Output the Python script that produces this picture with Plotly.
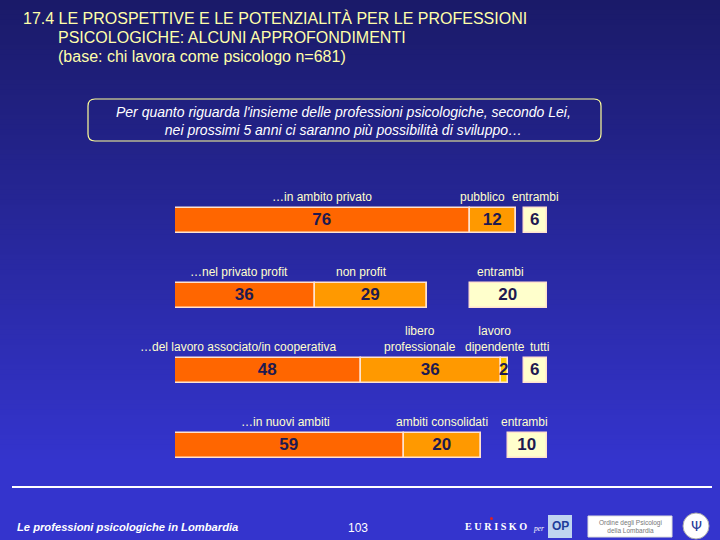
import plotly.graph_objects as go

# ---------------- data ----------------
rows = [0, 1, 2, 3]
seg1_labels = ["…in ambito privato", "…nel privato profit",
               "…del lavoro associato/in cooperativa", "…in nuovi ambiti"]
seg1_values = [76, 36, 48, 59]
seg2_labels = ["pubblico", "non profit", "libero<br>professionale", "ambiti consolidati"]
seg2_values = [12, 29, 36, 20]
seg3_labels = ["", "", "lavoro<br>dipendente", ""]
seg3_values = [0, 0, 2, 0]
sep_labels = ["entrambi", "entrambi", "tutti", "entrambi"]
sep_values = [6, 20, 6, 10]

title_lines = ["17.4 LE PROSPETTIVE E LE POTENZIALITÀ PER LE PROFESSIONI",
               "PSICOLOGICHE: ALCUNI APPROFONDIMENTI",
               "(base: chi lavora come psicologo n=681)"]
question_text = ("Per quanto riguarda l'insieme delle professioni psicologiche, secondo Lei,<br>"
                 "nei prossimi 5 anni ci saranno più possibilità di sviluppo…")
footer_left = "Le professioni psicologiche in Lombardia"
page_number = "103"

# ---------------- style ----------------
W, H = 720, 540
XMAX = 96
C1, C2, C3, C4 = "#FF6600", "#FF9900", "#FFCC00", "#FFFFCC"
EDGE = "#FFE2CF"
NUM_COLOR = "#1E1A50"
LABEL_COLOR = "#FFFFCC"
SANS = "Liberation Sans, Arial, sans-serif"

def px(x):
    return x / W

def py(y):
    return 1 - y / H

fig = go.Figure()

def add_bar(values, base, color, name):
    txt = [str(v) if v else "" for v in values]
    fig.add_trace(go.Bar(
        y=rows, x=values, base=base, orientation="h", name=name,
        width=0.345,
        marker=dict(color=color, line=dict(color=EDGE, width=1.5)),
        text=txt, textposition="inside", insidetextanchor="middle",
        constraintext="none",
        textfont=dict(family=SANS, size=17, color=NUM_COLOR, weight="bold"),
        hoverinfo="skip", showlegend=False,
    ))

base2 = seg1_values
base3 = [a + b for a, b in zip(seg1_values, seg2_values)]
base_sep = [XMAX - v for v in sep_values]

add_bar(seg1_values, [0] * 4, C1, "seg1")
add_bar(seg2_values, base2, C2, "seg2")
add_bar(seg3_values, base3, C3, "seg3")
add_bar(sep_values, base_sep, C4, "sep")

# ---------------- labels above bars ----------------
xshift = {(0, 1): -10, (1, 0): -6, (1, 1): -9, (1, 3): -8,
          (2, 0): -30, (2, 1): -11, (2, 2): -9, (2, 3): 4, (3, 0): -4, (3, 3): -3}
annotations = []
for i in rows:
    groups = [
        (seg1_labels[i], 0, seg1_values[i]),
        (seg2_labels[i], base2[i], seg2_values[i]),
        (seg3_labels[i], base3[i], seg3_values[i]),
        (sep_labels[i], base_sep[i], sep_values[i]),
    ]
    for k, (lab, b, v) in enumerate(groups):
        if not lab:
            continue
        annotations.append(dict(
            x=b + v / 2, y=i, xref="x", yref="y", text=lab, showarrow=False,
            xanchor="center", yanchor="bottom", yshift=15,
            xshift=xshift.get((i, k), 0),
            font=dict(family=SANS, size=12, color=LABEL_COLOR),
        ))

# title
title_pos = [(21, 18), (56, 37), (56, 56)]
for t, (x0, y0) in zip(title_lines, title_pos):
    annotations.append(dict(
        x=px(x0), y=py(y0), xref="paper", yref="paper", text=t, showarrow=False,
        xanchor="left", yanchor="middle",
        font=dict(family=SANS, size=16, color="#FFFFAA")))

# question box text
annotations.append(dict(
    x=px(343), y=py(121), xref="paper", yref="paper", text="<i>" + question_text + "</i>",
    showarrow=False, xanchor="center", yanchor="middle",
    font=dict(family=SANS, size=14, color="#FFFFFF")))

# footer
annotations.append(dict(
    x=px(15), y=py(527), xref="paper", yref="paper", text="<b><i>" + footer_left + "</i></b>",
    showarrow=False, xanchor="left", yanchor="middle",
    font=dict(family=SANS, size=11.2, color="#FFFFFF")))
annotations.append(dict(
    x=px(358), y=py(528), xref="paper", yref="paper", text=page_number,
    showarrow=False, xanchor="center", yanchor="middle",
    font=dict(family=SANS, size=12, color="#FFFFFF")))
annotations.append(dict(
    x=px(463), y=py(526), xref="paper", yref="paper", text="<b>E U R I S K O</b>",
    showarrow=False, xanchor="left", yanchor="middle",
    font=dict(family="Liberation Serif, serif", size=10.2, color="#FFFFFF")))
annotations.append(dict(
    x=px(531), y=py(528), xref="paper", yref="paper", text="<i>per</i>",
    showarrow=False, xanchor="left", yanchor="middle",
    font=dict(family="Liberation Serif, serif", size=7.5, color="#FFFFFF")))
annotations.append(dict(
    x=px(560), y=py(526), xref="paper", yref="paper", text="<b>OP</b>",
    showarrow=False, xanchor="center", yanchor="middle",
    font=dict(family=SANS, size=12, color="#1E3C9A")))
annotations.append(dict(
    x=px(630), y=py(526.5), xref="paper", yref="paper",
    text="Ordine degli Psicologi<br>della Lombardia",
    showarrow=False, xanchor="center", yanchor="middle",
    font=dict(family=SANS, size=6.5, color="#777777")))
annotations.append(dict(
    x=px(696), y=py(526), xref="paper", yref="paper", text="Ψ",
    showarrow=False, xanchor="center", yanchor="middle",
    font=dict(family="DejaVu Sans, sans-serif", size=14, color="#2A3C99")))

# ---------------- shapes ----------------
shapes = []
# vertical gradient background
n = 108
top = (26, 26, 104)
bot = (52, 52, 205)
for j in range(n):
    y0 = j * H / n
    y1 = (j + 1) * H / n
    t = min(1.0, (y0 + y1) / 2 / 460)
    c = tuple(int(round(a + (b - a) * t)) for a, b in zip(top, bot))
    shapes.append(dict(type="rect", xref="paper", yref="paper", layer="below",
                       x0=0, x1=1, y0=py(y1) - 0.001, y1=py(y0) + 0.001,
                       line=dict(width=0), fillcolor="rgb(%d,%d,%d)" % c))

# rounded question box
x0, x1, y0, y1, r = 88, 601, 99, 141, 7
path = (f"M {px(x0 + r)},{py(y0)} L {px(x1 - r)},{py(y0)} "
        f"Q {px(x1)},{py(y0)} {px(x1)},{py(y0 + r)} L {px(x1)},{py(y1 - r)} "
        f"Q {px(x1)},{py(y1)} {px(x1 - r)},{py(y1)} L {px(x0 + r)},{py(y1)} "
        f"Q {px(x0)},{py(y1)} {px(x0)},{py(y1 - r)} L {px(x0)},{py(y0 + r)} "
        f"Q {px(x0)},{py(y0)} {px(x0 + r)},{py(y0)} Z")
shapes.append(dict(type="path", xref="paper", yref="paper", path=path,
                   line=dict(color="#FFFF99", width=1.2)))

# footer line
shapes.append(dict(type="line", xref="paper", yref="paper",
                   x0=px(12), x1=px(712), y0=py(487), y1=py(487),
                   line=dict(color="#FFFFFF", width=2)))
# OP logo box
shapes.append(dict(type="rect", xref="paper", yref="paper",
                   x0=px(548), x1=px(572), y0=py(538), y1=py(515),
                   fillcolor="#BFD4F0", line=dict(width=0)))
# Ordine box
shapes.append(dict(type="rect", xref="paper", yref="paper",
                   x0=px(588), x1=px(672), y0=py(537), y1=py(516),
                   fillcolor="#FFFFFF", line=dict(color="#DDDDDD", width=1)))
# circle logo
shapes.append(dict(type="circle", xref="paper", yref="paper",
                   x0=px(683), x1=px(709), y0=py(539), y1=py(513),
                   fillcolor="#FFFFFF", line=dict(color="#AAAAAA", width=1)))
# red dot on EURISKO
shapes.append(dict(type="circle", xref="paper", yref="paper",
                   x0=px(490), x1=px(493), y0=py(520), y1=py(517),
                   fillcolor="#E02020", line=dict(width=0)))

fig.update_layout(
    width=W, height=H, margin=dict(l=0, r=0, t=0, b=0),
    paper_bgcolor="rgb(52,52,205)", plot_bgcolor="rgba(0,0,0,0)",
    barmode="overlay", bargap=0,
    xaxis=dict(domain=[px(175), px(547)], range=[0, XMAX], visible=False, fixedrange=True),
    yaxis=dict(domain=[py(483), py(183)], range=[3.5, -0.5], visible=False, fixedrange=True),
    shapes=shapes, annotations=annotations, showlegend=False,
)

fig.write_html("out.html", config={"displayModeBar": False},
               post_script="document.body.style.margin='0';document.body.style.padding='0';")
